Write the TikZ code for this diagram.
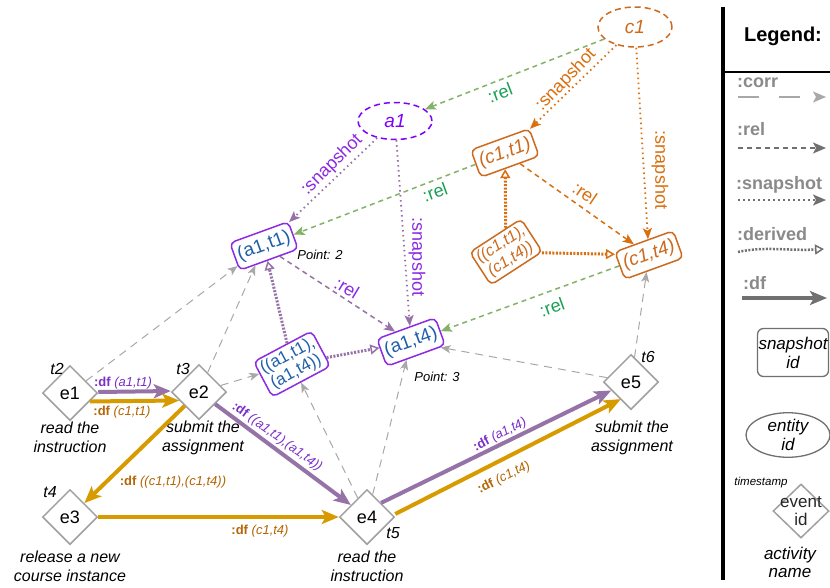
\documentclass[tikz,border=0pt]{standalone}
\usepackage{fontspec}
\setmainfont{Liberation Sans}
\usetikzlibrary{arrows.meta,shapes.geometric,calc}
\definecolor{pur}{HTML}{9673A6}
\definecolor{vio}{HTML}{8B2BE2}
\definecolor{avio}{HTML}{7F00FF}
\definecolor{ablue}{HTML}{1F5FAA}
\definecolor{org}{HTML}{CC6A1E}
\definecolor{orga}{HTML}{D9700F}
\definecolor{grn}{HTML}{82B366}
\definecolor{grntxt}{HTML}{1AA055}
\definecolor{gold}{HTML}{D79B00}
\definecolor{brn}{HTML}{B46504}
\definecolor{dfpur}{HTML}{7A2FC8}
\definecolor{corrgray}{HTML}{A8A8A8}
\definecolor{evgray}{HTML}{A0A0A0}
\definecolor{leggray}{HTML}{707070}
\definecolor{legtxt}{HTML}{8A8A8A}
\newcommand{\myfs}[2]{\fontsize{#1}{#2}\selectfont}
\begin{document}
\begin{tikzpicture}[x=1pt,y=-1pt,
  evt/.style={diamond, draw=evgray, line width=1.5pt, fill=white, minimum width=55pt, minimum height=55pt, inner sep=0pt, font=\myfs{18}{21}},
  tlab/.style={font=\myfs{16}{18}\itshape},
  act/.style={align=center, font=\myfs{16}{19}\itshape},
  sna/.style={draw=vio, line width=1.5pt, rounded corners=5pt, fill=white, text=ablue, font=\myfs{19}{21}, inner sep=3pt, minimum height=29pt, minimum width=62pt},
  snc/.style={draw=org, line width=1.5pt, rounded corners=5pt, fill=white, text=org, font=\myfs{19}{21}\itshape, inner sep=3pt, minimum height=29pt, minimum width=62pt},
  ent/.style={ellipse, line width=1.5pt, dash pattern=on 6pt off 4pt, fill=white, inner sep=0pt, minimum width=74pt, minimum height=37pt, font=\myfs{19}{21}\itshape},
  lab/.style={font=\myfs{18}{20}, inner sep=1pt},
  dflab/.style={font=\myfs{13}{15}, inner sep=1pt},
  pnt/.style={font=\myfs{13}{15}\itshape, inner sep=1pt},
  corr/.style={draw=corrgray, line width=1pt, dash pattern=on 8pt off 6pt, -{Stealth[length=10pt,width=8pt,inset=2.5pt]}},
  relg/.style={draw=grn, line width=1.5pt, dash pattern=on 5pt off 4pt, -{Stealth[length=11pt,width=9pt,inset=2.5pt]}},
  rela/.style={draw=pur, line width=1.5pt, dash pattern=on 5pt off 4pt, -{Stealth[length=11pt,width=9pt,inset=2.5pt]}},
  relc/.style={draw=orga, line width=1.5pt, dash pattern=on 5pt off 4pt, -{Stealth[length=11pt,width=9pt,inset=2.5pt]}},
  snpa/.style={draw=pur, line width=1.8pt, dash pattern=on 1.5pt off 3.5pt, -{Stealth[length=11pt,width=9pt,inset=2.5pt]}},
  snpc/.style={draw=orga, line width=1.8pt, dash pattern=on 1.5pt off 3.5pt, -{Stealth[length=11pt,width=9pt,inset=2.5pt]}},
  dera/.style={draw=pur, line width=3pt, dash pattern=on 2pt off 1.5pt, -{Triangle[open,length=9pt,width=10pt,line width=1.5pt]}},
  derc/.style={draw=orga, line width=3pt, dash pattern=on 2pt off 1.5pt, -{Triangle[open,length=9pt,width=10pt,line width=1.5pt]}},
  dfa/.style={draw=pur, line width=4pt, -{Stealth[length=17pt,width=14pt,inset=4pt]}},
  dfc/.style={draw=gold, line width=4pt, -{Stealth[length=17pt,width=14pt,inset=4pt]}},
  legl/.style={font=\myfs{18}{20}\bfseries, text=legtxt, anchor=west, inner sep=0pt}
]
\useasboundingbox (0,0) rectangle (830,587);
\fill[white] (0,0) rectangle (830,587);

% events
\node[evt] (e1) at (70,393) {e1};
\node[evt] (e2) at (199,392) {e2};
\node[evt] (e3) at (70,517) {e3};
\node[evt] (e4) at (367,517) {e4};
\node[evt] (e5) at (631,382) {e5};
\node[tlab] (t2) at (57,369) {t2};
\node[tlab] (t3) at (183,369) {t3};
\node[tlab] (t4) at (50,492) {t4};
\node[tlab] (t5) at (393,533) {t5};
\node[tlab] (t6) at (648,357) {t6};
\node[act] (n1) at (70,437.5) {read the\\instruction};
\node[act] (n2) at (203,437.5) {submit the\\assignment};
\node[act] (n3) at (70,566) {release a new\\course instance};
\node[act] (n4) at (367,566) {read the\\instruction};
\node[act] (n5) at (632,437.5) {submit the\\assignment};

% entities
\node[ent, draw=avio, text=avio] (a1) at (395,121) {a1};
\node[ent, draw=org, text=org, minimum height=40pt] (c1) at (635,27) {c1};

% snapshots
\node[sna, rotate=20] (a1t1) at (264,246) {(a1,t1)};
\node[sna, rotate=20] (a1t4) at (411,342) {(a1,t4)};
\node[sna, rotate=28, align=center, font=\myfs{17}{18}, minimum width=0pt] (a1c) at (292,364) {((a1,t1),\\(a1,t4))};
\node[snc, rotate=20] (c1t1) at (505,153) {(c1,t1)};
\node[snc, rotate=20] (c1t4) at (649,255) {(c1,t4)};
\node[snc, rotate=33, align=center, font=\myfs{16}{18}\itshape, minimum width=0pt] (c1c) at (506,252) {((c1,t1),\\(c1,t4))};
\node[pnt] (p2) at (320,255) {Point: 2};
\node[pnt] (p3) at (437,377) {Point: 3};

% corr
\draw[corr] (e1) -- (a1t1);
\draw[corr] (e2) -- (a1t1);
\draw[corr] (e2) -- (a1c);
\draw[corr] (e4) -- (a1c);
\draw[corr] (e4) -- (a1t4);
\draw[corr] (e5) -- (a1t4);
\draw[corr] (e5) -- (c1t4);

% a1 relations
\draw[snpa] (a1) -- (a1t1);
\draw[snpa] (a1) -- (a1t4);
\draw[rela] (a1t1) -- (a1t4);
\draw[dera] (a1c) -- (a1t1);
\draw[dera] (a1c) -- (a1t4);
% green rel
\draw[relg] (c1) -- (a1);
\draw[relg] (c1t1) -- (a1t1);
\draw[relg] (c1t4) -- (a1t4);
% c1 relations
\draw[snpc] (c1) -- (c1t1);
\draw[snpc] (c1) -- (c1t4);
\draw[relc] (c1t1) -- (c1t4);
\draw[derc] (c1c) -- (c1t1);
\draw[derc] (c1c) -- (c1t4);

% labels
\node[lab, text=vio, rotate=45] (ls1) at (332,165) {:snapshot};
\node[lab, text=vio, rotate=-90] (ls2) at (417,257) {:snapshot};
\node[lab, text=vio, rotate=-31] (lr1) at (347,288) {:rel};
\node[lab, text=grntxt, rotate=21] (lg1) at (500,93) {:rel};
\node[lab, text=grntxt, rotate=20] (lg2) at (435,192) {:rel};
\node[lab, text=grntxt, rotate=20] (lg3) at (552,307) {:rel};
\node[lab, text=orga, rotate=46] (ls3) at (566,80) {:snapshot};
\node[lab, text=orga, rotate=-90] (ls4) at (660,170) {:snapshot};
\node[lab, text=orga, rotate=-34] (lr2) at (585,193) {:rel};

% df
\draw[dfa] ($(e1.east)+(0,-1)$) -- ($(e2.west)+(0,-1)$);
\draw[dfc] ($(e1.east)!0.3!(e1.south)$) -- ($(e2.west)!0.3!(e2.south)$);
\draw[dfc] (e2) -- (e3);
\draw[dfa] (e2) -- (e4);
\draw[dfc] (e3) -- (e4);
\draw[dfa] (e4.north east) -- ($(e5.west)!0.3!(e5.south)$);
\draw[dfc] ($(e4.east)+(0,-3)$) -- ($(e5.south west)+(4,3)$);

\node[dflab, text=dfpur] (d1) at (123,383) {\textbf{:df} \textit{(a1,t1)}};
\node[dflab, text=brn] (d2) at (122,412) {\textbf{:df} \textit{(c1,t1)}};
\node[dflab, text=brn] (d3) at (173,482) {\textbf{:df} \textit{((c1,t1),(c1,t4))}};
\node[dflab, text=dfpur, rotate=-36] (d4) at (277,437) {\textbf{:df} \textit{((a1,t1),(a1,t4))}};
\node[dflab, text=brn] (d5) at (260,531) {\textbf{:df} \textit{(c1,t4)}};
\node[dflab, text=dfpur, rotate=27] (d6) at (500,435) {\textbf{:df} \textit{(a1,t4)}};
\node[dflab, text=brn, rotate=27] (d7) at (504,478) {\textbf{:df} \textit{(c1,t4)}};

% legend
\draw[line width=4pt] (722.5,7) -- (722.5,580);
\draw[line width=2.5pt] (722.5,72) -- (830,72);
\node[font=\myfs{20}{22}\bfseries] (legt) at (783,36) {Legend:};
\node[legl] (lc) at (737,83) {:corr};
\node[legl] (lr) at (737,129) {:rel};
\node[legl] (lsn) at (736,185) {:snapshot};
\node[legl] (ld) at (737,234) {:derived};
\node[legl] (ldf) at (743,283) {:df};
\coordinate (c1a) at (738,97);  \coordinate (c1b) at (826,97);
\coordinate (r1a) at (738,148); \coordinate (r1b) at (826,148);
\coordinate (s1a) at (738,200); \coordinate (s1b) at (826,200);
\coordinate (v1a) at (738,252); \coordinate (v1b) at (824,249);
\coordinate (f1a) at (742,298); \coordinate (f1b) at (827,298);
\draw[draw=corrgray, line width=1.5pt, dash pattern=on 21pt off 20pt, -{Stealth[length=13pt,width=11pt,inset=3pt]}] (c1a) -- (c1b);
\draw[draw=leggray, line width=1.5pt, dash pattern=on 5pt off 4pt, -{Stealth[length=13pt,width=11pt,inset=3pt]}] (r1a) -- (r1b);
\draw[draw=leggray, line width=1.5pt, dash pattern=on 1.5pt off 3.5pt, -{Stealth[length=13pt,width=11pt,inset=3pt]}] (s1a) -- (s1b);
\draw[draw=leggray, line width=2.5pt, dash pattern=on 2pt off 1.5pt, -{Triangle[open,length=9pt,width=10pt,line width=1.5pt]}] (v1a) .. controls (765,246) and (790,251) .. (v1b);
\draw[draw=leggray, line width=4pt, -{Stealth[length=17pt,width=14pt,inset=4pt]}] (f1a) -- (f1b);

\node[draw=leggray, line width=1.3pt, rounded corners=6pt, minimum width=71pt, minimum height=48pt, align=center, inner sep=1pt, font=\myfs{17}{19}\itshape] (lsb) at (793,352.5) {snapshot\\id};
\node[ellipse, draw=leggray, line width=1.3pt, minimum width=84pt, minimum height=44pt, inner sep=0pt, align=center, font=\myfs{17}{19}\itshape] (leb) at (788,435) {entity\\id};
\node[font=\myfs{11.5}{13}\itshape] (lts) at (761,483) {timestamp};
\node[diamond, draw=evgray, line width=1.5pt, minimum width=56pt, minimum height=54pt, inner sep=0pt] (ldm) at (801,511) {};
\node[align=center, font=\myfs{17}{18}, text=black!85] (ldt) at (ldm) {event\\id};
\node[act, font=\myfs{17}{18}\itshape] (lan) at (790,562) {activity\\name};
\end{tikzpicture}
\end{document}
